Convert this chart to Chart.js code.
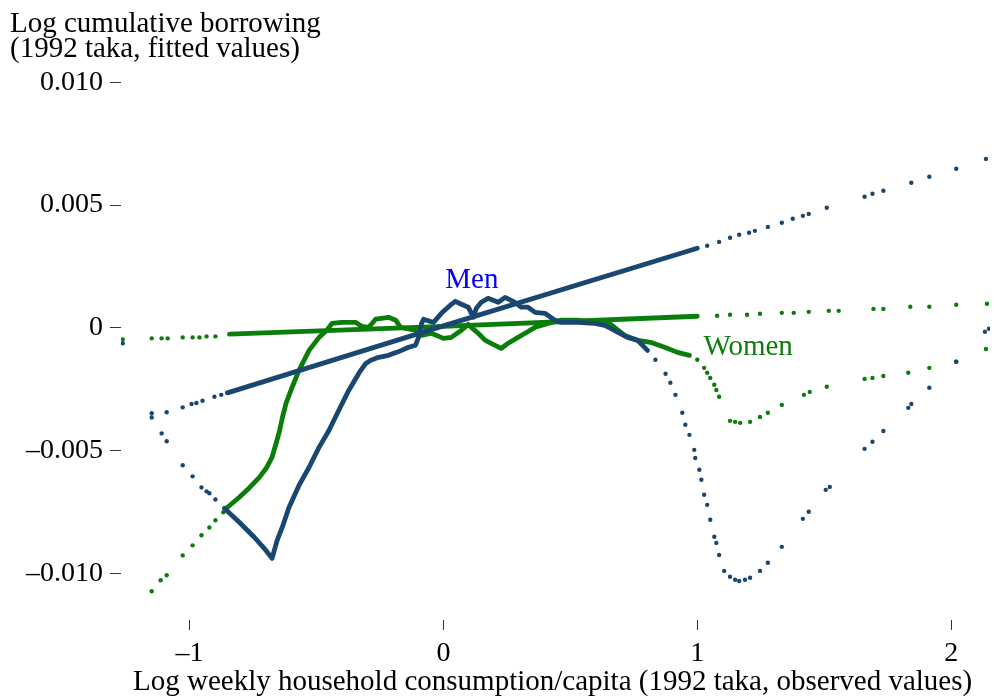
<!DOCTYPE html>
<html>
<head>
<meta charset="utf-8">
<script src="https://cdn.jsdelivr.net/npm/chart.js@4.4.0/dist/chart.umd.min.js"></script>
<style>
  html, body { margin: 0; padding: 0; background: #fff; }
  canvas { display: block; }
</style>
</head>
<body>
<canvas id="chart" width="994" height="700"></canvas>
<script>
// tick values and labels
const xTickValues = [-1, 0, 1, 2];
const xTickLabels = ['\u20131', '0', '1', '2'];
const yTickValues = [0.010, 0.005, 0, -0.005, -0.010];
const yTickLabels = ['0.010', '0.005', '0', '\u20130.005', '\u20130.010'];

// Men, nonparametric curve (sparse left tail, dense middle, sparse right tail)
const menCurveLeft = [
  [-1.149, -0.00365], [-1.110, -0.00430], [-1.090, -0.00462], [-1.027, -0.00560],
  [-0.988, -0.00605], [-0.953, -0.00650], [-0.933, -0.00666], [-0.922, -0.00674],
  [-0.898, -0.00699]
];
const menCurveDense = [
  [-0.863, -0.00735], [-0.804, -0.00792], [-0.745, -0.00853], [-0.706, -0.00898],
  [-0.675, -0.00939], [-0.655, -0.00866], [-0.635, -0.00813], [-0.608, -0.00731],
  [-0.569, -0.00642], [-0.529, -0.00568], [-0.490, -0.00487], [-0.451, -0.00418],
  [-0.412, -0.00336], [-0.373, -0.00255], [-0.333, -0.00185], [-0.306, -0.00145],
  [-0.286, -0.00132], [-0.255, -0.00120], [-0.216, -0.00112], [-0.184, -0.00100],
  [-0.165, -0.00092], [-0.137, -0.00079], [-0.110, -0.00071], [-0.098, -0.00039],
  [-0.086, 0.00018], [-0.078, 0.00035], [-0.039, 0.00022], [-0.008, 0.00059],
  [0.027, 0.00092], [0.047, 0.00108], [0.071, 0.00096], [0.098, 0.00084],
  [0.118, 0.00043], [0.129, 0.00079], [0.149, 0.00104], [0.176, 0.00120],
  [0.216, 0.00104], [0.243, 0.00124], [0.282, 0.00104], [0.306, 0.00084],
  [0.333, 0.00084], [0.361, 0.00063], [0.400, 0.00059], [0.439, 0.00031],
  [0.463, 0.00022], [0.529, 0.00022], [0.596, 0.00018], [0.635, 0.00010],
  [0.659, -0.00002], [0.686, -0.00018], [0.725, -0.00039], [0.765, -0.00051],
  [0.804, -0.00092]
];
const menCurveRight = [
  [0.835, -0.00130], [0.875, -0.00187], [0.894, -0.00224], [0.914, -0.00273],
  [0.941, -0.00346], [0.953, -0.00395], [0.969, -0.00436], [0.988, -0.00497],
  [0.992, -0.00530], [1.008, -0.00578], [1.016, -0.00619], [1.027, -0.00680],
  [1.039, -0.00721], [1.051, -0.00782], [1.067, -0.00851], [1.075, -0.00876],
  [1.086, -0.00925], [1.106, -0.00990], [1.129, -0.01014], [1.149, -0.01026],
  [1.165, -0.01031], [1.188, -0.01026], [1.208, -0.01018], [1.247, -0.00990],
  [1.278, -0.00957], [1.333, -0.00892], [1.416, -0.00778], [1.439, -0.00749],
  [1.506, -0.00660], [1.522, -0.00648], [1.659, -0.00493], [1.690, -0.00464],
  [1.733, -0.00420], [1.831, -0.00326], [1.843, -0.00310], [1.914, -0.00244],
  [2.020, -0.00138], [2.133, -0.00016], [2.149, -0.00004]
];

// Men, linear fit
const menFitLeft = [
  [-1.149, -0.00348], [-1.090, -0.00344], [-1.027, -0.00324], [-0.992, -0.00310],
  [-0.973, -0.00306], [-0.949, -0.00297], [-0.902, -0.00281], [-0.875, -0.00273]
];
const menFitDense = [[-0.851, -0.00265], [0, 0.00008], [1.0, 0.00324]];
const menFitRight = [
  [1.039, 0.00334], [1.086, 0.00350], [1.129, 0.00367], [1.165, 0.00379],
  [1.204, 0.00387], [1.227, 0.00395], [1.278, 0.00411], [1.333, 0.00428],
  [1.376, 0.00444], [1.416, 0.00456], [1.439, 0.00464], [1.510, 0.00489],
  [1.659, 0.00534], [1.690, 0.00546], [1.733, 0.00558], [1.843, 0.00591],
  [1.914, 0.00615], [2.020, 0.00648], [2.137, 0.00688]
];

// Women, nonparametric curve
const womenCurveLeft = [
  [-1.149, -0.01073], [-1.114, -0.01028], [-1.090, -0.01008], [-1.027, -0.00927],
  [-0.988, -0.00886], [-0.953, -0.00845], [-0.922, -0.00813], [-0.898, -0.00784],
  [-0.867, -0.00751]
];
const womenCurveDense = [
  [-0.855, -0.00735], [-0.804, -0.00690], [-0.765, -0.00652], [-0.725, -0.00609],
  [-0.698, -0.00572], [-0.675, -0.00527], [-0.659, -0.00470], [-0.647, -0.00426],
  [-0.635, -0.00369], [-0.620, -0.00308], [-0.596, -0.00242], [-0.569, -0.00173],
  [-0.529, -0.00092], [-0.490, -0.00039], [-0.459, -0.00010], [-0.439, 0.00018],
  [-0.400, 0.00022], [-0.345, 0.00022], [-0.322, 0.00006], [-0.294, 0.00002],
  [-0.267, 0.00035], [-0.216, 0.00043], [-0.188, 0.00031], [-0.169, 0.00002],
  [-0.110, -0.00010], [-0.086, -0.00031], [-0.047, -0.00022], [0, -0.00043],
  [0.031, -0.00039], [0.071, -0.00010], [0.098, 0.00014], [0.110, 0.00002],
  [0.137, -0.00022], [0.165, -0.00051], [0.188, -0.00063], [0.227, -0.00084],
  [0.255, -0.00063], [0.294, -0.00039], [0.322, -0.00022], [0.361, 0.00002],
  [0.412, 0.00018], [0.463, 0.00031], [0.529, 0.00031], [0.596, 0.00022],
  [0.659, 0.00014], [0.714, -0.00031], [0.765, -0.00051], [0.816, -0.00059],
  [0.871, -0.00079], [0.922, -0.00100], [0.969, -0.00112]
];
const womenCurveRight = [
  [1.0, -0.00130], [1.027, -0.00163], [1.039, -0.00183], [1.051, -0.00204],
  [1.067, -0.00232], [1.075, -0.00253], [1.086, -0.00281], [1.129, -0.00379],
  [1.149, -0.00383], [1.169, -0.00387], [1.208, -0.00383], [1.247, -0.00363],
  [1.278, -0.00346], [1.333, -0.00314], [1.420, -0.00273], [1.443, -0.00261],
  [1.510, -0.00240], [1.659, -0.00208], [1.690, -0.00204], [1.733, -0.00196],
  [1.831, -0.00183], [1.914, -0.00163], [2.020, -0.00138], [2.137, -0.00086]
];

// Women, linear fit
const womenFitLeft = [
  [-1.149, -0.00043], [-1.110, -0.00043], [-1.086, -0.00043], [-1.027, -0.00039],
  [-0.988, -0.00039], [-0.961, -0.00039], [-0.933, -0.00035], [-0.898, -0.00035]
];
const womenFitDense = [[-0.843, -0.00026], [0, 0.00006], [1.0, 0.00047]];
const womenFitRight = [
  [1.078, 0.00049], [1.129, 0.00053], [1.196, 0.00053], [1.247, 0.00057],
  [1.333, 0.00061], [1.380, 0.00061], [1.439, 0.00065], [1.518, 0.00069],
  [1.557, 0.00069], [1.694, 0.00077], [1.733, 0.00077], [1.839, 0.00086],
  [1.914, 0.00086], [2.020, 0.00094], [2.141, 0.00098]
];

// lone points at the far left edge
const menStray = [[-1.263, -0.00063]];
const womenStray = [[-1.263, -0.00047]];

const NAVY = '#1a476f';
const GREEN = '#0a7d0a';
const FONT = "'Liberation Serif', 'DejaVu Serif', serif";

const toXY = pts => pts.map(([x, y]) => ({ x, y }));

const lineSet = (pts, color) => ({
  data: toXY(pts), showLine: true, borderColor: color, borderWidth: 4.8,
  pointRadius: 0, tension: 0, borderJoinStyle: 'round', borderCapStyle: 'round'
});
const dotSet = (pts, color) => ({
  data: toXY(pts), showLine: false, backgroundColor: color, borderWidth: 0,
  pointRadius: 2.2
});

// text that is not part of the axes
const labelsPlugin = {
  id: 'labels',
  afterDraw(chart) {
    const ctx = chart.ctx;
    const xs = chart.scales.x, ys = chart.scales.y;
    ctx.save();
    ctx.font = '29px ' + FONT;
    ctx.textBaseline = 'alphabetic';
    ctx.fillStyle = '#000';
    ctx.textAlign = 'left';
    ctx.fillText('Log cumulative borrowing', 10, 32);
    ctx.fillText('(1992 taka, fitted values)', 10, 57);
    ctx.fillText('Log weekly household consumption/capita (1992 taka, observed values)', 133, 690);
    ctx.fillStyle = '#0000ff';
    ctx.textAlign = 'center';
    ctx.fillText('Men', xs.getPixelForValue(0.112), ys.getPixelForValue(0.00161));
    ctx.fillStyle = GREEN;
    ctx.textAlign = 'left';
    ctx.fillText('Women', xs.getPixelForValue(1.024), ys.getPixelForValue(-0.00112));
    ctx.restore();
  }
};

new Chart(document.getElementById('chart'), {
  type: 'scatter',
  data: {
    datasets: [
      lineSet(menFitDense, NAVY),
      dotSet(menFitLeft, NAVY),
      dotSet(menFitRight, NAVY),
      lineSet(menCurveDense, NAVY),
      dotSet(menCurveLeft, NAVY),
      dotSet(menCurveRight, NAVY),
      dotSet(menStray, NAVY),
      lineSet(womenFitDense, GREEN),
      dotSet(womenFitLeft, GREEN),
      dotSet(womenFitRight, GREEN),
      lineSet(womenCurveDense, GREEN),
      dotSet(womenCurveLeft, GREEN),
      dotSet(womenCurveRight, GREEN),
      dotSet(womenStray, GREEN)
    ]
  },
  options: {
    responsive: false,
    animation: false,
    devicePixelRatio: 1,
    layout: { padding: { top: 70, left: 0, right: 0, bottom: 0 } },
    plugins: { legend: { display: false }, tooltip: { enabled: false } },
    scales: {
      x: {
        type: 'linear', min: -1.27, max: 2.153,
        border: { display: false },
        grid: { drawOnChartArea: false, drawTicks: true, tickLength: 10, color: '#333', lineWidth: 1 },
        ticks: {
          autoSkip: false, maxRotation: 0, padding: 7, color: '#000',
          font: { family: FONT, size: 28 },
          callback: (v, i) => xTickLabels[i]
        },
        afterBuildTicks: s => { s.ticks = xTickValues.map(v => ({ value: v })); },
        afterFit: s => { s.height = 80; }
      },
      y: {
        type: 'linear', min: -0.0119, max: 0.0105,
        border: { display: false },
        grid: { drawOnChartArea: false, drawTicks: true, tickLength: 11, color: '#333', lineWidth: 1 },
        ticks: {
          autoSkip: false, padding: 7, color: '#000',
          font: { family: FONT, size: 28 },
          callback: (v, i) => yTickLabels[i]
        },
        afterBuildTicks: s => { s.ticks = yTickValues.map(v => ({ value: v })); },
        afterFit: s => { s.width = 121; }
      }
    }
  },
  plugins: [labelsPlugin]
});
</script>
</body>
</html>
